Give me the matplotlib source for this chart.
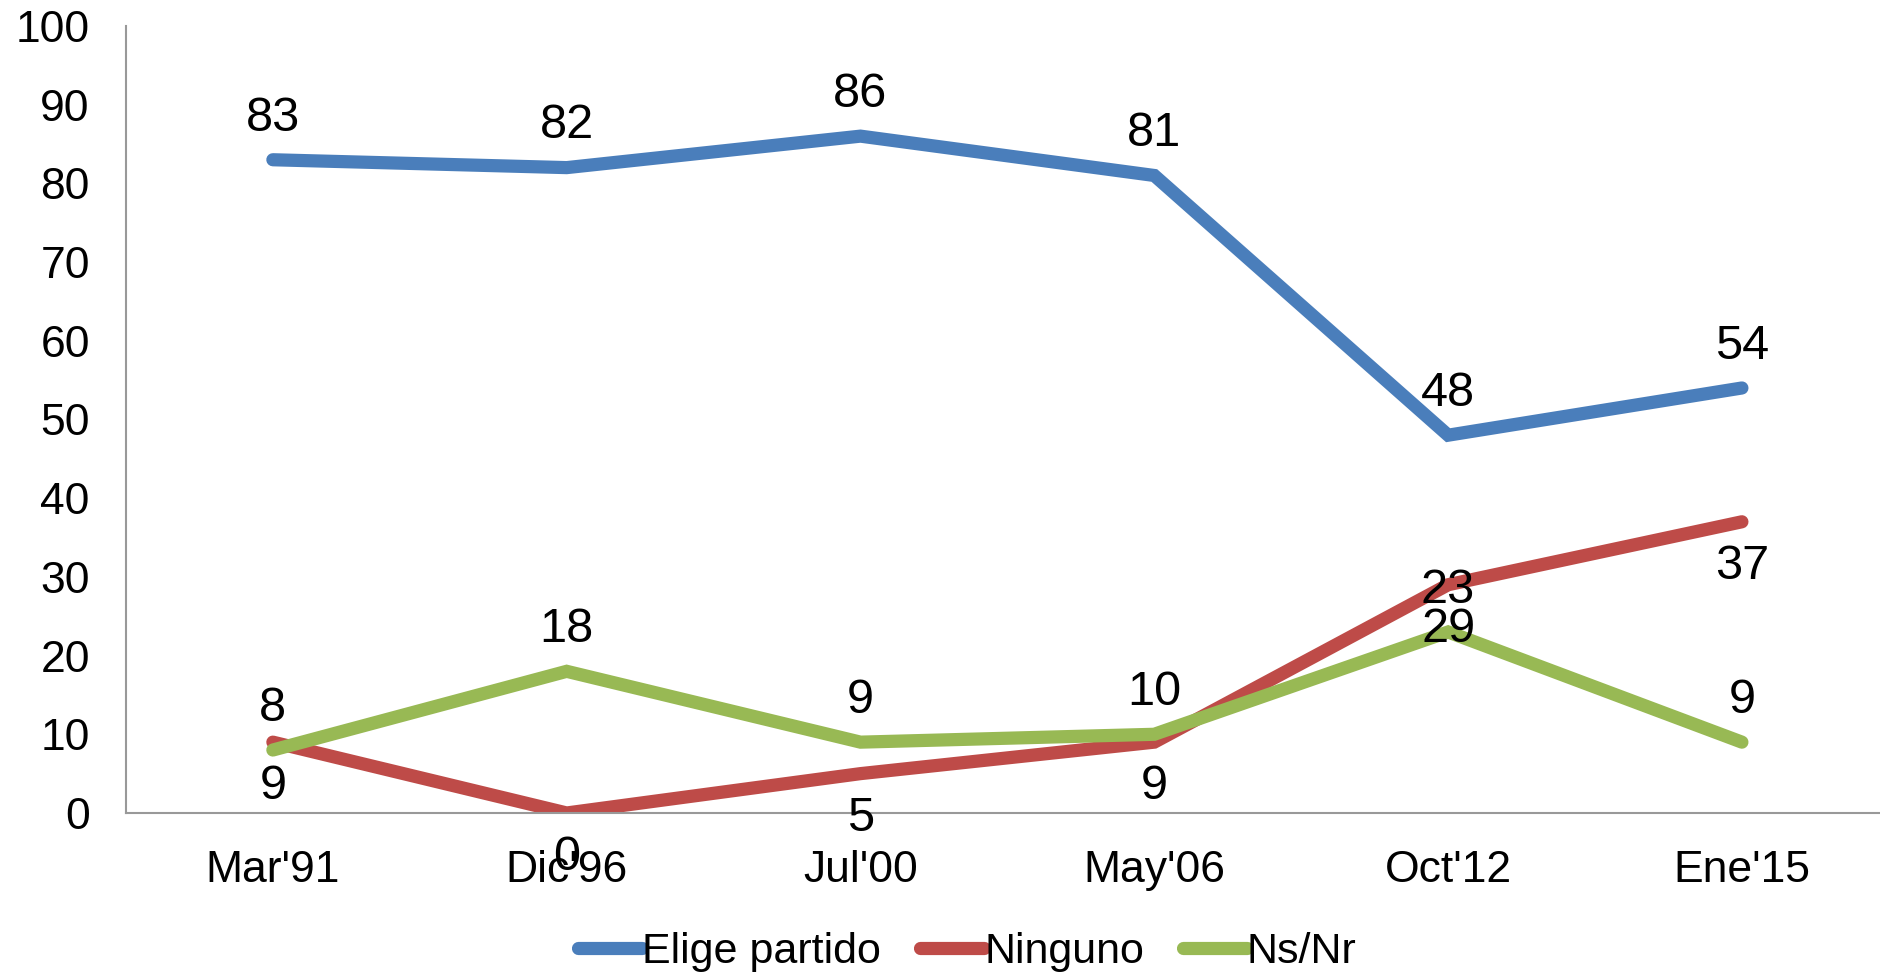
import numpy as np
import matplotlib as mpl
import matplotlib.pyplot as plt
from matplotlib.ticker import MultipleLocator

mpl.rcParams['font.family'] = ['Liberation Sans', 'DejaVu Sans']

# data
fechas = ["Mar'91", "Dic'96", "Jul'00", "May'06", "Oct'12", "Ene'15"]
elige = [83, 82, 86, 81, 48, 54]
ninguno = [9, 0, 5, 9, 29, 37]
nsnr = [8, 18, 9, 10, 23, 9]

series = [
    ("Elige partido", elige, "#4A7EBB", 30),
    ("Ninguno", ninguno, "#BE4B48", -32),
    ("Ns/Nr", nsnr, "#98B954", 30),
]

fig = plt.figure(figsize=(18.8, 9.72), dpi=100)
ax = fig.add_axes((0.067, 0.1636, 0.933, 0.8097))

x = np.arange(len(fechas))
for name, vals, col, off in series:
    ax.plot(x, vals, color=col, linewidth=9.5, solid_capstyle='round',
            solid_joinstyle='miter', label=name)
    for xi, v in zip(x, vals):
        ax.annotate(str(v), (xi, v), xytext=(0, off), textcoords='offset points',
                    ha='center', va='center', fontsize=35)

ax.set_xlim(-0.5, 5.47)
ax.set_ylim(0, 100)
ax.yaxis.set_major_locator(MultipleLocator(10))
ax.set_xticks(x)
ax.set_xticklabels(fechas)
ax.tick_params(axis='both', length=0, labelsize=32)
ax.tick_params(axis='y', pad=26)
ax.tick_params(axis='x', pad=27)

for s in ['top', 'right']:
    ax.spines[s].set_visible(False)
for s in ['left', 'bottom']:
    ax.spines[s].set_color('#999999')
    ax.spines[s].set_linewidth(1.5)

fig.legend(loc='center left', bbox_to_anchor=(0.3075, 0.021), frameon=False,
           ncol=3, fontsize=31, handlelength=1.49, handletextpad=0.0,
           columnspacing=0.9, borderaxespad=0, borderpad=0)

fig.savefig('out.png', dpi=100)
